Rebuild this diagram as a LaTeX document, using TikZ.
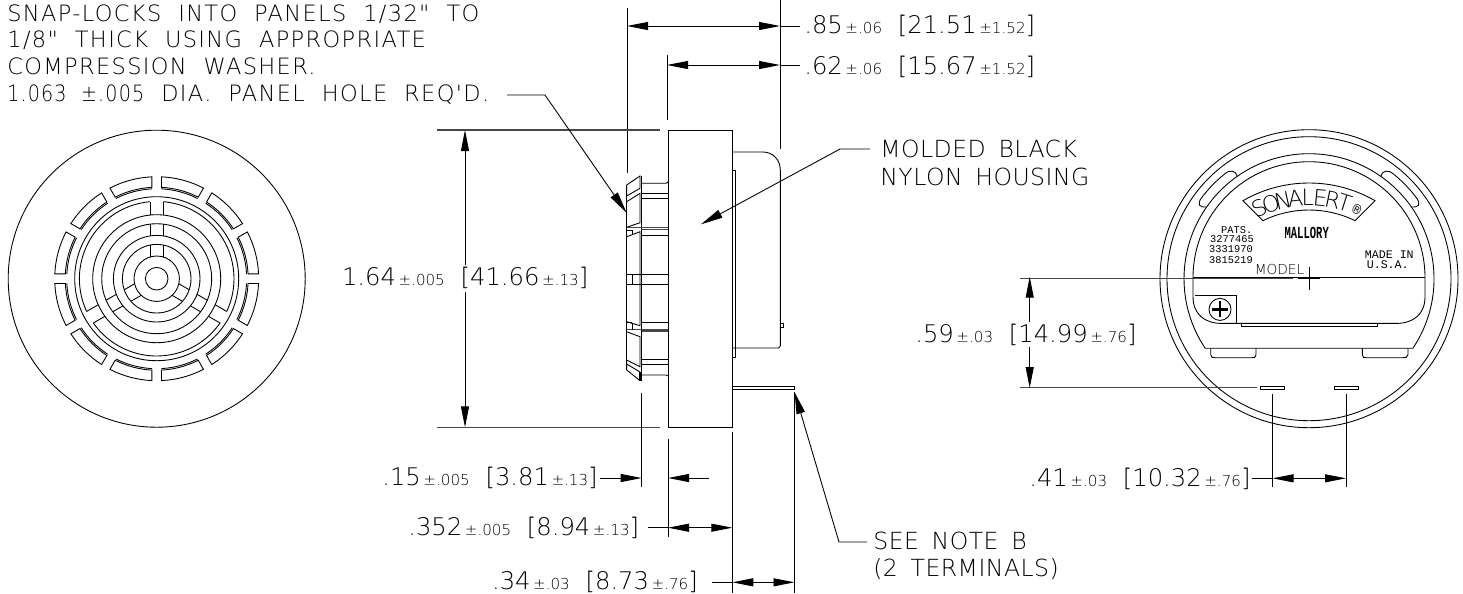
\documentclass[tikz,border=0pt]{standalone}
\usepackage{fontspec}
\setmainfont{Liberation Mono}
\newfontfamily\dimfont{DejaVu Sans ExtraLight}
\newfontfamily\notefont[LetterSpace=6,WordSpace=2.0]{DejaVu Sans ExtraLight}
\newfontfamily\moldfont[LetterSpace=2,WordSpace=1.6]{DejaVu Sans ExtraLight}
\usetikzlibrary{arrows.meta}
\definecolor{dimgray}{RGB}{70,70,70}
\newcommand{\dimbig}{\dimfont\fontsize{13.8}{13.8}\selectfont}
\newcommand{\dimsmall}{\dimfont\fontsize{8.6}{9}\selectfont}
\newcommand{\dimtxt}[5][0.9em]{{\dimbig #2}{\dimsmall\,±#3}\hspace{#1}{\dimbig[#4}{\dimsmall\,±#5}{\dimbig]}}
\tikzstyle{part} = [line width=0.5pt]
\tikzstyle{heavy} = [line width=0.9pt, color=dimgray]
\tikzstyle{extline} = [line width=0.55pt, color=black]
\tikzstyle{dimline} = [line width=0.55pt, >={Triangle[length=0.42cm,width=0.16cm]}]
\tikzstyle{leader} = [line width=0.5pt, >={Triangle[length=0.44cm,width=0.17cm]}]
\tikzstyle{note} = [inner sep=0pt, anchor=west, align=left, font=\notefont\fontsize{12.8}{15.3}\selectfont]
\tikzstyle{notelg} = [inner sep=0pt, anchor=west, align=left, font=\moldfont\fontsize{13.4}{15.7}\selectfont]
\tikzstyle{dimtext} = [inner sep=0pt, anchor=west]
\tikzstyle{tiny} = [inner sep=0pt, font=\fontsize{5.9}{5.9}\selectfont]
\begin{document}
\begin{tikzpicture}[x=0.02cm,y=-0.02cm]
\useasboundingbox (0,0) rectangle (1463,593);

% Front view
\begin{scope}[shift={(156.7,278.7)},y=0.02cm]
\draw[part] (0,0) circle (148.5);
\foreach \rad in {11.3,22.7,34.3,43.3,55,64,82}
  \draw[part] (0,0) circle (\rad);
\draw[part] (95:77.3) arc[start angle=95,end angle=205,radius=77.3];
\draw[part] (215:77.3) arc[start angle=215,end angle=325,radius=77.3];
\draw[part] (335:77.3) arc[start angle=335,end angle=445,radius=77.3];
\foreach \ang in {90,210,330} {
  \begin{scope}[rotate=\ang]
  \draw[part] (21.7,6.67) -- (33.6,6.67) (21.7,-6.67) -- (33.6,-6.67);
  \draw[part] (42.8,6.67) -- (54.6,6.67) (42.8,-6.67) -- (54.6,-6.67);
  \draw[part] (63.6,6.67) -- (77,6.67) (63.6,-6.67) -- (77,-6.67);
  \end{scope}
}
% Slots
\foreach \ang in {0,30,...,330} {
  \draw[part] (\ang+2.7:102) arc[start angle=\ang+2.7,end angle=\ang+27.3,radius=102]
    -- (\ang+27:91.5) arc[start angle=\ang+27,end angle=\ang+3,radius=91.5] -- cycle;
  \draw[part] (\ang+3:90) arc[start angle=\ang+3,end angle=\ang+27,radius=90];
}
\end{scope}

% Side view: housing
\draw[part] (668.3,130) rectangle (732.3,427.3);
\draw[part] (732.3,152) -- (763,152) .. controls (773,152) and (780.3,160) .. (780.3,170)
  -- (780.3,346) -- (778.5,348) -- (732.3,348);
\draw[part] (732.3,170) rectangle (735,357);
\draw[part] (780.3,323) rectangle (783,327);
\draw[part] (732.3,386) rectangle (794.7,389.3);
\draw[line width=0.7pt] (732.3,150) -- (732.3,360);

% Side view: clips
\draw[part] (626.7,185) -- (640,176) -- (640,188.3) -- (626.7,196) -- cycle;
\draw[part] (626.7,201.7) -- (640,193.3) -- (640,222.7) -- (626.7,227.3);
\draw[part] (626.7,236.7) -- (640,231.7) -- (640,325.7) -- (626.7,321.7);
\draw[part] (626.7,331.7) -- (640,336.7) -- (640,366.7) -- (626.7,360);
\draw[part] (626.7,364) -- (640,372) (626.7,360) -- (626.7,370) -- (640,380.7);
\draw[part] (626.7,185) -- (626.7,370);
\draw[line width=0.7pt] (641.7,176) -- (641.7,380.7) -- (640,380.7) -- (640,372);
\draw[part] (641.7,183.3) -- (666,183.3) -- (668.3,182);
\draw[part] (641.7,193.3) -- (668.3,193.3);
\draw[line width=0.9pt] (641.7,198.5) -- (668.3,198.5);
\draw[heavy] (626.7,227.5) -- (668.3,227.5) (641.7,229.6) -- (668.3,229.6);
\draw[part] (641.7,235) -- (668.3,235);
\draw[part] (626.7,230) -- (632,230) -- (632,235);
\draw[part] (626.7,274) -- (668.3,274) (626.7,284) -- (668.3,284) (632,274) -- (632,284);
\draw[part] (641.7,322.3) -- (668.3,322.3);
\draw[heavy] (626.7,329.5) -- (668.3,329.5) (641.7,331) -- (668.3,331);
\draw[part] (632,322.5) -- (632,329.5) (626.7,322.5) -- (632,322.5);
\draw[line width=0.9pt] (641.7,359.3) -- (668.3,359.3);
\draw[part] (641.7,364) -- (668.3,364);
\draw[part] (641.7,375) -- (666,375) -- (668.3,376);

% Rear view
\begin{scope}[shift={(1309,278.7)},y=0.02cm]
\draw[part] (0,0) circle (149);
\draw[part] (0,0) circle (142);
\draw[part] (-33.8:125) arc[start angle=-33.8,end angle=213.8,radius=125] -- cycle;
\draw[part] (-116,1) arc[start angle=180,end angle=0,radius=116];
\draw[part] (-116,1) -- (116,1);
\draw[part] (-116,1) -- (-116,-18) .. controls (-116,-35) and (-105,-44.7) .. (-87,-44.7)
  -- (87,-44.7) .. controls (105,-44.7) and (116,-35) .. (116,-18) -- (116,1);
\draw[part] (-68,-44.7) rectangle (68.7,-48);
\draw[part] (-114,-17) -- (-72.3,-17) -- (-72.3,-44.7);
\draw[part] (-89,-30.7) circle (11);
\draw[line width=1.3pt] (-97,-30.7) -- (-81,-30.7) (-89,-38.7) -- (-89,-22.7);
% Feet
\draw[part] (-98.3,-69.7) -- (-98.3,-76) .. controls (-98.3,-79) and (-96,-79) .. (-94,-79)
  -- (-57,-79) .. controls (-55,-79) and (-53,-79) .. (-53,-76) -- (-53,-69.7);
\draw[part] (53.3,-69.7) -- (53.3,-76) .. controls (53.3,-79) and (55,-79) .. (57,-79)
  -- (94,-79) .. controls (96,-79) and (99,-79) .. (99,-76) -- (99,-69.7);
% Lugs
\draw[part] (145:125) .. controls (147:131) and (146.5:134) .. (143.5:134.5)
  arc[start angle=143.5,end angle=129,radius=134.5] .. controls (126:135) and (124:131) .. (125:125);
\draw[part] (35:125) .. controls (33:131) and (33.5:134) .. (36.5:134.5)
  arc[start angle=36.5,end angle=51,radius=134.5] .. controls (54:135) and (56:131) .. (55:125);
\end{scope}

% Banner
\begin{scope}[shift={(1309,315)},y=0.02cm]
\draw[part] (60:132) arc[start angle=60,end angle=120,radius=132] -- (116:105)
  arc[start angle=116,end angle=64,radius=105] -- cycle;
\foreach \chr [count=\i] in {S,O,N,A,L,E,R,T} {
  \pgfmathsetmacro{\ang}{115-(\i-1)*6.1}
  \node[inner sep=0pt, rotate=\ang-90, font=\dimfont\fontsize{12.8}{13}\selectfont] (sona\i) at (\ang:117.5) {\chr};
}
\node[inner sep=0pt, rotate=-25, font=\fontsize{8}{8}\selectfont] (sonareg) at (65.7:116) {\textregistered};
\end{scope}

% Rear view texts
\node[tiny] (pats) at (1236.7,230) {PATS.};
\node[tiny] (pat1) at (1232,238.7) {3277465};
\node[tiny] (pat2) at (1231,249.3) {3331970};
\node[tiny] (pat3) at (1231,260) {3815219};
\node[inner sep=0pt, font=\bfseries\fontsize{6}{6}\selectfont] (mallory) at (1306.7,232.7) {\scalebox{1}[1.6]{MALLORY}};
\node[tiny, font=\fontsize{6.6}{6.6}\selectfont] (madein) at (1389.3,255) {MADE IN};
\node[tiny, font=\fontsize{6.6}{6.6}\selectfont] (usa) at (1387.7,265) {U.S.A.};
\node[inner sep=0pt, font=\dimfont\fontsize{7.8}{8}\selectfont] (model) at (1279.5,270) {MODEL};

% Rear view dimensions
\draw[heavy] (1020,278.3) -- (1293,278.3);
\draw[heavy] (1020,387.3) -- (1257,387.3);
\draw[line width=1.1pt] (1298,278.3) -- (1320,278.3);
\draw[part] (1309,267) -- (1309,290);
\draw[part] (1260.7,386) rectangle (1284.3,389.3);
\draw[part] (1334.3,386) rectangle (1358,389.3);
\draw[extline] (1272.5,394) -- (1272.5,487.3);
\draw[extline] (1346,394) -- (1346,487.3);
\node[dimtext] (d59) at (915,335) {\dimtxt{.59}{.03}{14.99}{.76}};
\node[dimtext] (d41) at (1029,479) {\dimtxt{.41}{.03}{10.32}{.76}};
\coordinate (d59t) at (1029.7,276.7);
\coordinate (d59b) at (1029.7,388);
\draw[dimline,<-] (d59t) -- (1029.7,321.7);
\draw[dimline,<-] (d59b) -- (1029.7,347);
\coordinate (d41l) at (1272.5,478.3);
\coordinate (d41r) at (1346,478.3);
\draw[dimline,<->] (d41l) -- (d41r);
\draw[dimline] (1252,478.3) -- (d41l);

% Top dimensions
\draw[extline] (627,8) -- (627,173);
\draw[extline] (780,0) -- (780,149);
\draw[extline] (667,55) -- (667,120);
\node[dimtext] (d85) at (804,25.7) {\dimtxt{.85}{.06}{21.51}{1.52}};
\node[dimtext] (d62) at (804,66.7) {\dimtxt{.62}{.06}{15.67}{1.52}};
\coordinate (d85l) at (627,26);
\coordinate (d85r) at (780,26);
\coordinate (d62l) at (667,65);
\coordinate (d62r) at (780,65);
\draw[dimline,<->] (d85l) -- (d85r);
\draw[dimline] (d85r) -- (800,26);
\draw[dimline,<->] (d62l) -- (d62r);
\draw[dimline] (d62r) -- (800,65);

% Height dimension
\draw[heavy] (437,130) -- (660,130);
\draw[heavy] (437,427.3) -- (660,427.3);
\node[dimtext] (d164) at (341.7,278.3) {\dimtxt{1.64}{.005}{41.66}{.13}};
\draw[dimline,<-] (465,130) -- (465,265);
\draw[dimline,<-] (465,427.3) -- (465,291.7);

% Bottom dimensions
\draw[extline] (641.7,393) -- (641.7,487);
\draw[extline] (668,439) -- (668,537);
\draw[extline] (732.3,432) -- (732.3,593);
\draw[extline] (794.5,392) -- (794.5,593);
\node[dimtext] (d15) at (382,478) {\dimtxt{.15}{.005}{3.81}{.13}};
\node[dimtext] (d352) at (408,527.7) {\dimtxt{.352}{.005}{8.94}{.13}};
\node[dimtext] (d34) at (491.7,582.3) {\dimtxt{.34}{.03}{8.73}{.76}};
\coordinate (d15l) at (641.7,478);
\coordinate (d15r) at (668,478);
\draw[dimline,->] (600,478) -- (d15l);
\draw[dimline,<-] (d15r) -- (709,478);
\coordinate (d352l) at (668,527.7);
\coordinate (d352r) at (732.3,527.7);
\draw[dimline,<->] (d352l) -- (d352r);
\draw[dimline] (648,527.7) -- (d352l);
\coordinate (d34l) at (732.3,582.3);
\coordinate (d34r) at (794.5,582.3);
\draw[dimline,<->] (d34l) -- (d34r);
\draw[dimline] (712,582.3) -- (d34l);

% Notes
\node[note] (snap) at (7,54.5) {SNAP-LOCKS INTO PANELS 1/32" TO\\1/8" THICK USING APPROPRIATE\\COMPRESSION WASHER.\\\scalebox{.85}[1]{1.063 ±.005} DIA. PANEL HOLE REQ'D.};
\coordinate (snapc) at (507,95);
\draw[leader,->] (snapc) -- (545,95) -- (626.7,213);
\node[notelg] (molded) at (880,163) {MOLDED BLACK\\NYLON HOUSING};
\coordinate (moldedc) at (870,149);
\draw[leader,->] (moldedc) -- (840,149) -- (701,224.3);
\node[notelg] (seenote) at (873,556) {SEE NOTE B\\(2 TERMINALS)};
\coordinate (seec) at (867,542);
\draw[leader,->] (seec) -- (839,542) -- (794.5,392);
\end{tikzpicture}
\end{document}
